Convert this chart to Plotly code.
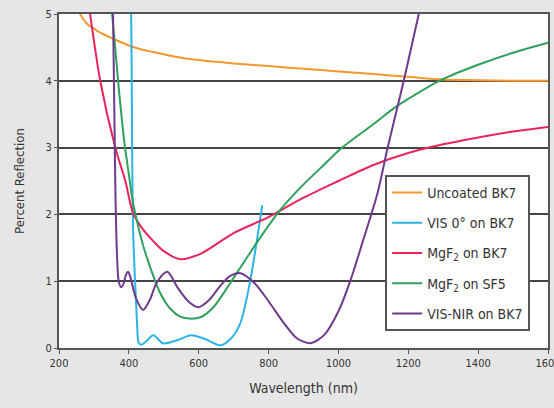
import plotly.graph_objects as go

# Wavelength (nm) and percent reflection for each coating
uncoated_nm = [258, 270, 283, 300, 318, 355, 409, 470, 533, 600, 700, 800, 900, 1000, 1100, 1200, 1300, 1400, 1500, 1600]
uncoated_r = [5.02, 4.92, 4.84, 4.78, 4.72, 4.63, 4.51, 4.43, 4.36, 4.31, 4.26, 4.22, 4.18, 4.14, 4.10, 4.06, 4.02, 4.01, 4.0, 4.0]

vis0_nm = [406, 408, 410, 412, 416, 420, 424, 428, 436, 450, 470, 498, 540, 578, 620, 662, 690, 719, 748, 768, 782]
vis0_r = [5.4, 4.2, 2.6, 1.8, 1.2, 0.75, 0.32, 0.08, 0.05, 0.1, 0.19, 0.07, 0.12, 0.19, 0.13, 0.04, 0.13, 0.37, 1.02, 1.66, 2.14]

mgf2_bk7_nm = [285, 289, 318, 361, 390, 412, 440, 470, 500, 547, 605, 700, 800, 900, 1000, 1100, 1200, 1300, 1400, 1500, 1600]
mgf2_bk7_r = [5.15, 5.0, 4.0, 3.0, 2.5, 2.02, 1.78, 1.6, 1.45, 1.33, 1.41, 1.72, 1.96, 2.25, 2.5, 2.74, 2.92, 3.05, 3.15, 3.24, 3.31]

mgf2_sf5_nm = [349, 352, 360, 370, 381, 389, 400, 409, 418, 440, 461, 490, 520, 547, 575, 605, 642, 690, 740, 785, 834, 891, 950, 1006, 1100, 1164, 1200, 1293, 1400, 1500, 1600]
mgf2_sf5_r = [5.2, 5.0, 4.55, 3.95, 3.37, 3.0, 2.6, 2.26, 2.02, 1.55, 1.21, 0.82, 0.58, 0.47, 0.44, 0.46, 0.61, 0.97, 1.37, 1.72, 2.07, 2.4, 2.7, 2.98, 3.35, 3.61, 3.73, 4.01, 4.24, 4.42, 4.57]

visnir_nm = [354, 356, 359, 362, 366, 371, 378, 386, 392, 398, 405, 420, 441, 460, 480, 510, 540, 570, 598, 630, 660, 690, 720, 760, 800, 840, 880, 920, 960, 1000, 1035, 1070, 1112, 1141, 1187, 1230, 1245]
visnir_r = [5.3, 4.5, 3.3, 2.2, 1.4, 1.0, 0.91, 0.98, 1.1, 1.14, 1.05, 0.75, 0.57, 0.72, 0.98, 1.14, 0.9, 0.7, 0.61, 0.72, 0.92, 1.08, 1.12, 0.97, 0.7, 0.4, 0.15, 0.07, 0.2, 0.55, 1.02, 1.6, 2.32, 3.0, 4.0, 5.0, 5.35]

x_ticks = [200, 400, 600, 800, 1000, 1200, 1400, 1600]
y_ticks = [0, 1, 2, 3, 4, 5]

series = [
    ("Uncoated BK7", uncoated_nm, uncoated_r, "#f5962e"),
    ("VIS 0° on BK7", vis0_nm, vis0_r, "#2cb3e6"),
    ("MgF<sub>2</sub> on BK7", mgf2_bk7_nm, mgf2_bk7_r, "#e8245a"),
    ("MgF<sub>2</sub> on SF5", mgf2_sf5_nm, mgf2_sf5_r, "#2f9f5c"),
    ("VIS-NIR on BK7", visnir_nm, visnir_r, "#6d3a8c"),
]

FONT = "DejaVu Sans Condensed, Liberation Sans Narrow, Roboto, sans-serif"

fig = go.Figure()
for i, (name, xs, ys, color) in enumerate(series):
    fig.add_trace(go.Scatter(
        x=xs, y=ys, name=name, mode="lines",
        line=dict(color=color, width=2, shape="spline", smoothing=0.8),
        legendgroup=f"g{i}",
    ))

fig.update_layout(
    width=554, height=408,
    margin=dict(l=59, r=6, t=14, b=60),
    paper_bgcolor="#e6e6e6",
    plot_bgcolor="#ffffff",
    font=dict(family=FONT, color="#333333", size=11),
    showlegend=True,
    legend=dict(
        x=0.667, y=0.518, xanchor="left", yanchor="top",
        bgcolor="#ffffff", bordercolor="#555555", borderwidth=2,
        font=dict(family=FONT, size=14, color="#333333"),
        tracegroupgap=9, itemwidth=30,
    ),
    xaxis=dict(
        range=[200, 1600], tickvals=x_ticks, ticktext=[str(v) for v in x_ticks],
        showgrid=False, zeroline=False, automargin=False,
        showline=True, linecolor="#555555", linewidth=2, mirror=True,
        ticks="outside", ticklen=4, tickcolor="#555555",
        ticklabeloverflow="allow",
        title=dict(text="Wavelength (nm)", font=dict(family=FONT, size=14, color="#333333"), standoff=14),
    ),
    yaxis=dict(
        range=[0, 5], tickvals=y_ticks, automargin=False,
        showgrid=True, gridcolor="#444444", gridwidth=1.5, zeroline=False,
        showline=True, linecolor="#555555", linewidth=2, mirror=True,
        ticks="outside", ticklen=3, tickcolor="#555555",
        title=dict(text="Percent Reflection", font=dict(family=FONT, size=13, color="#333333"), standoff=18),
    ),
)

fig.write_html("out.html")
